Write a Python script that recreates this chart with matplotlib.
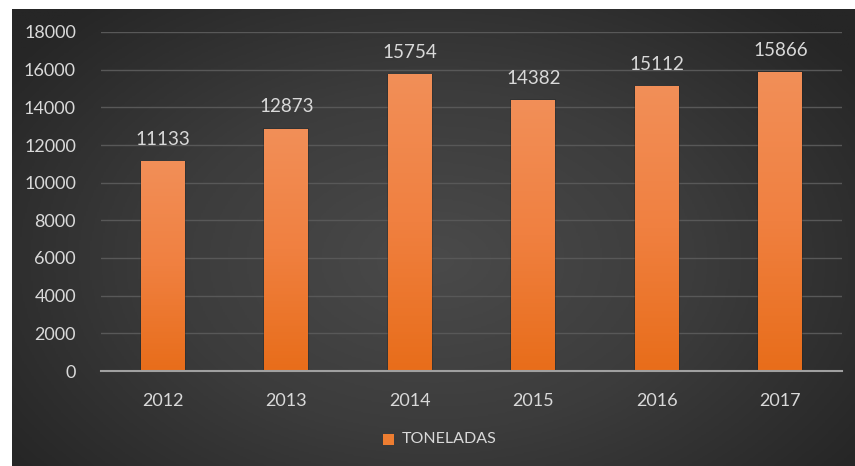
import numpy as np
import matplotlib
matplotlib.use("Agg")
from matplotlib import pyplot as plt
from matplotlib.colors import LinearSegmentedColormap
from matplotlib.patches import Rectangle

plt.rcParams['font.family'] = ['Lato', 'DejaVu Sans']

years = ['2012', '2013', '2014', '2015', '2016', '2017']
toneladas = [11133, 12873, 15754, 14382, 15112, 15866]
yticks = [0, 2000, 4000, 6000, 8000, 10000, 12000, 14000, 16000, 18000]

txt = '#d9d9d9'
fig = plt.figure(figsize=(8.55, 4.66), dpi=100)
fig.patch.set_facecolor('white')

# fondo con degradado radial
bg = fig.add_axes([12 / 855, 0, 1 - 12 / 855, 1 - 9 / 466])
bg.set_axis_off()
yy, xx = np.mgrid[0:1:300j, 0:1:500j]
r = np.sqrt(((xx - 0.5) / 0.62) ** 2 + ((yy - 0.45) / 0.75) ** 2)
r = np.clip(r, 0, 1)
bgcmap = LinearSegmentedColormap.from_list('bg', ['#4a4a4a', '#3c3c3c', '#262626'])
bg.imshow(r, cmap=bgcmap, aspect='auto', extent=[0, 1, 0, 1], origin='lower', vmin=0, vmax=1)

ax = fig.add_axes([101 / 855, 1 - 371 / 466, 741 / 855, 339 / 466])
ax.set_facecolor('none')
x = np.arange(len(years))
w = 0.355

barcmap = LinearSegmentedColormap.from_list('bar', ['#e86d1a', '#f08040', '#f28f58'])
grad = np.linspace(0, 1, 256).reshape(-1, 1)
for xi, v in zip(x, toneladas):
    # sombra
    sh = Rectangle((xi - w / 2 - 0.008, 0), w + 0.016, v + 40, facecolor='#1a1a1a',
                   alpha=0.25, edgecolor='none', zorder=2)
    ax.add_patch(sh)
    rect = Rectangle((xi - w / 2, 0), w, v, facecolor='none', edgecolor='none', zorder=3)
    ax.add_patch(rect)
    im = ax.imshow(grad, cmap=barcmap, aspect='auto', origin='lower',
                   extent=[xi - w / 2, xi + w / 2, 0, v], zorder=3)
    im.set_clip_path(rect)
    ax.text(xi, v + 700, f'{v}', ha='center', va='bottom', color=txt, fontsize=13.5)

ax.set_xlim(-0.5, len(years) - 0.5)
ax.set_ylim(0, 18000)
ax.set_yticks(yticks)
ax.set_yticklabels([str(t) for t in yticks])
ax.set_xticks(x)
ax.set_xticklabels(years)
ax.tick_params(axis='both', length=0, colors=txt, labelsize=13)
ax.tick_params(axis='y', pad=18)
ax.tick_params(axis='x', pad=16)
for s in ['top', 'right', 'left']:
    ax.spines[s].set_visible(False)
ax.spines['bottom'].set_color('#a0a0a0')
ax.spines['bottom'].set_linewidth(1.5)
ax.spines['bottom'].set_zorder(4)
ax.grid(axis='y', color='#585858', linewidth=1)
ax.set_axisbelow(True)

# leyenda
fig.patches.append(Rectangle((383 / 855, 1 - 445 / 466), 11 / 855, 11 / 466,
                             transform=fig.transFigure, facecolor='#ed7d31', edgecolor='none'))
fig.text(402 / 855, 1 - 439 / 466, 'TONELADAS', color=txt, fontsize=11.5, va='center', ha='left')

fig.savefig('out.png', dpi=100, facecolor='white')
